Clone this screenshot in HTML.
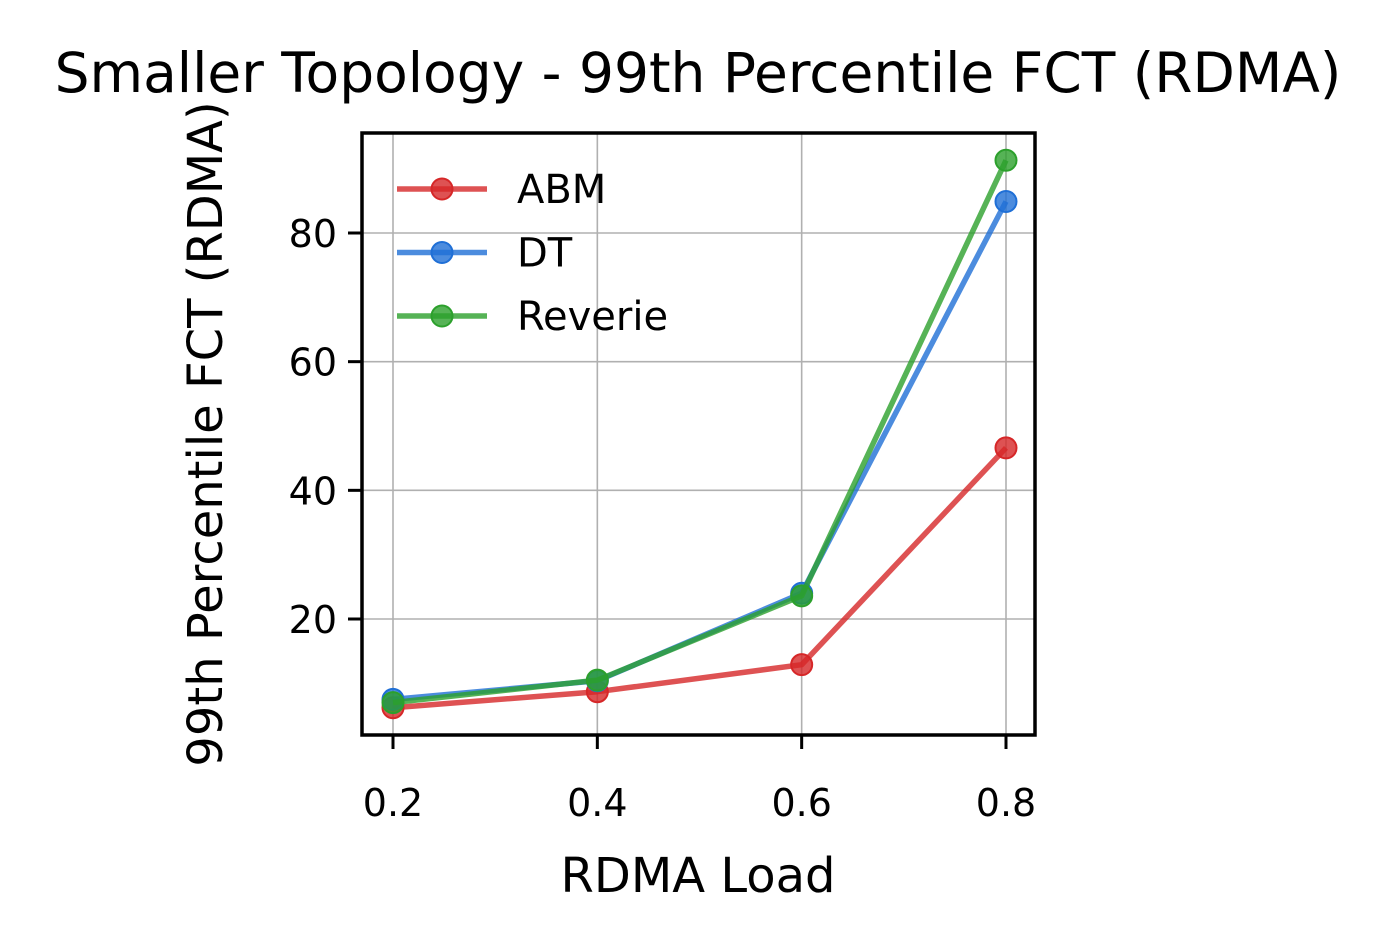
<!DOCTYPE html>
<html><head><meta charset="utf-8"><style>
html,body{margin:0;padding:0;background:#fff;}
svg{display:block;font-family:"DejaVu Sans","Liberation Sans",sans-serif;}
</style></head><body>
<svg id="chart" width="1398" height="951" viewBox="0 0 1398 951">
<text x="698" y="92" text-anchor="middle" font-size="55">Smaller Topology - 99th Percentile FCT (RDMA)</text>
<g id="grid"></g>
<g id="series"></g>
<rect x="362" y="133" width="673" height="602" fill="none" stroke="#000" stroke-width="3.5"/>
<g id="ticks"></g>
<text x="698" y="892" text-anchor="middle" font-size="48">RDMA Load</text>
<text transform="translate(222,434) rotate(-90)" text-anchor="middle" font-size="48">99th Percentile FCT (RDMA)</text>
<g id="legend"></g>
</svg>
<script>
const categories=[0.2,0.4,0.6,0.8];
const xTickLabels=["0.2","0.4","0.6","0.8"];
const yTicks=[20,40,60,80];
const seriesNames=["ABM","DT","Reverie"];
const abmValues=[6.2,8.7,12.9,46.6];
const dtValues=[7.5,10.4,24.0,84.9];
const reverieValues=[7.0,10.5,23.6,91.3];
const colors=["#d62728","#1f6fd6","#2ca02c"];
const NS="http://www.w3.org/2000/svg";
function X(v){return 393+(v-0.2)*(1006-393)/0.6;}
function Y(v){return 619-(v-20)*(619-233)/60;}
function mk(tag,attrs,parent){const e=document.createElementNS(NS,tag);for(const k in attrs)e.setAttribute(k,attrs[k]);parent.appendChild(e);return e;}
const grid=document.getElementById('grid'),ticks=document.getElementById('ticks'),ser=document.getElementById('series'),leg=document.getElementById('legend');
categories.forEach((c,i)=>{
 const g=mk('line',{x1:X(c),x2:X(c),y1:133,y2:735,stroke:'#b0b0b0','stroke-width':1.6},grid);
 
 
 const t=mk('line',{x1:X(c),x2:X(c),y1:735,y2:749,stroke:'#000','stroke-width':3},ticks);
 
 
 const l=mk('text',{x:X(c),y:816,'text-anchor':'middle','font-size':38},ticks);
 l.textContent=xTickLabels[i];
 
 
});
yTicks.forEach(v=>{
 const g=mk('line',{x1:362,x2:1035,y1:Y(v),y2:Y(v),stroke:'#b0b0b0','stroke-width':1.6},grid);
 
 
 const t=mk('line',{x1:348,x2:362,y1:Y(v),y2:Y(v),stroke:'#000','stroke-width':3},ticks);
 
 
 const l=mk('text',{x:337,y:Y(v)+14,'text-anchor':'end','font-size':38},ticks);
 l.textContent=String(v);
 
 
});
[abmValues,dtValues,reverieValues].forEach((vals,s)=>{
 const pts=vals.map((v,i)=>X(categories[i])+','+Y(v)).join(' ');
 const pl=mk('polyline',{points:pts,fill:'none',stroke:colors[s],'stroke-width':5.5,'stroke-opacity':0.8,'stroke-linejoin':'round'},ser);
 
 
 vals.forEach((v,i)=>{
  const c=mk('circle',{cx:X(categories[i]),cy:Y(v),r:10.5,fill:colors[s],'fill-opacity':0.8,stroke:colors[s],'stroke-width':2},ser);
  
  
 });
 const ly=189+s*63.5;
 const ll=mk('line',{x1:397,x2:487,y1:ly,y2:ly,stroke:colors[s],'stroke-width':5.5,'stroke-opacity':0.8},leg);
 
 
 const lc=mk('circle',{cx:442,cy:ly,r:10.5,fill:colors[s],'fill-opacity':0.8,stroke:colors[s],'stroke-width':2},leg);
 
 
 const lt=mk('text',{x:517,y:ly+14,'font-size':40},leg);
 lt.textContent=seriesNames[s];
 
 
});
</script>
</body></html>
